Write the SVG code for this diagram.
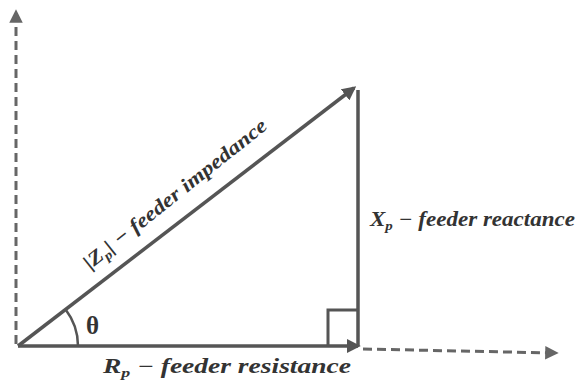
<svg xmlns="http://www.w3.org/2000/svg" width="578" height="388" viewBox="0 0 578 388">
<style>
.line{stroke:#555;stroke-width:3.5;fill:none}
.dash{stroke:#666;stroke-width:3;fill:none;stroke-dasharray:9,5}
.lbl{font-family:"Liberation Serif",serif;font-style:italic;font-weight:bold;font-size:20px;fill:#333}
.sub{font-size:13px}
</style>
<defs>
<marker id="ah" viewBox="0 0 10 10" refX="8" refY="5" markerWidth="4" markerHeight="4" orient="auto" markerUnits="strokeWidth">
<path d="M0,0 L10,5 L0,10 z" fill="#555"/>
</marker>
<marker id="ahd" viewBox="0 0 10 10" refX="8" refY="5" markerWidth="4.5" markerHeight="4.5" orient="auto" markerUnits="strokeWidth">
<path d="M0,0 L10,5 L0,10 z" fill="#666"/>
</marker>
</defs>
<rect width="578" height="388" fill="#fff"/>
<g id="connectors">
<line class="dash" x1="16" y1="344" x2="16" y2="12" marker-end="url(#ahd)"/>
<line class="dash" x1="363" y1="349" x2="556" y2="353" marker-end="url(#ahd)"/>
<line class="line" x1="18" y1="346" x2="358" y2="346" marker-end="url(#ah)"/>
<line class="line" x1="358" y1="346" x2="358" y2="90"/>
<line class="line" x1="18" y1="346" x2="354" y2="88" marker-end="url(#ah)"/>
<path d="M328,346 V310 H358" stroke="#555" stroke-width="3" fill="none"/>
<path d="M78,346 A60,60 0 0 0 65.6,309.5" stroke="#555" stroke-width="2.5" fill="none"/>
</g>
<g id="theta"><text x="86" y="334" font-family="Liberation Serif,serif" font-weight="bold" font-size="25" fill="#333">θ</text></g>
<g id="impedance-label">
<text class="lbl" transform="translate(90,270) rotate(-38.5)" textLength="228" lengthAdjust="spacingAndGlyphs">|Z<tspan class="sub" dy="4">p</tspan><tspan dy="-4">| − feeder impedance</tspan></text>
</g>
<g id="reactance-label">
<text class="lbl" x="370" y="226" textLength="205" lengthAdjust="spacingAndGlyphs">X<tspan class="sub" dy="4">p</tspan><tspan dy="-4"> − feeder reactance</tspan></text>
</g>
<g id="resistance-label">
<text class="lbl" x="103" y="373" textLength="248" lengthAdjust="spacingAndGlyphs">R<tspan class="sub" dy="4">p</tspan><tspan dy="-4"> − feeder resistance</tspan></text>
</g>
</svg>
